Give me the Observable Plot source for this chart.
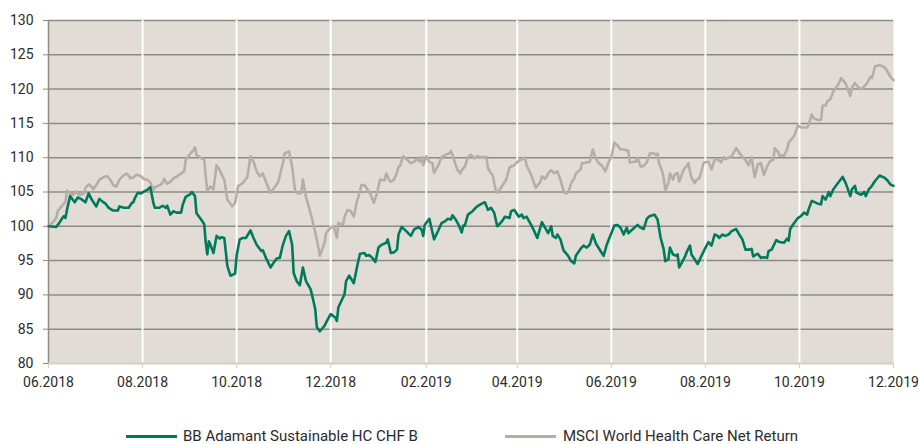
<!DOCTYPE html>
<html>
<head>
<meta charset="utf-8">
<script src="https://cdn.jsdelivr.net/npm/d3@7"></script>
<script src="https://cdn.jsdelivr.net/npm/@observablehq/plot@0.6"></script>
<style>
  html, body { margin: 0; padding: 0; background: #ffffff; }
  #wrap { width: 919px; height: 444px; position: relative; font-family: Roboto, "Open Sans", sans-serif; color: #2b2b2b; }
  #legend { position: relative; width: 919px; height: 39px; font-size: 15px; }
  #legend .sw { position: absolute; width: 51px; height: 3px; top: 30px; }
  #legend .lb { position: absolute; top: 24px; line-height: 14px; white-space: nowrap; }
</style>
</head>
<body>
<div id="wrap">
  <div id="chart"></div>
  <div id="legend"></div>
</div>
<script>
// ---- data ----
const seriesNames = ["BB Adamant Sustainable HC CHF B", "MSCI World Health Care Net Return"];
const seriesColors = ["#007a5c", "#b5aea7"];
const yTicks = [80, 85, 90, 95, 100, 105, 110, 115, 120, 125, 130];
const xTicks = ["2018-06-01","2018-08-01","2018-10-01","2018-12-01","2019-02-01","2019-04-01","2019-06-01","2019-08-01","2019-10-01","2019-12-01"];

const fund = [["2018-06-01",100],["2018-06-06",99.9],["2018-06-08",100.5],["2018-06-10",101.2],["2018-06-11",101.5],["2018-06-12",101.2],["2018-06-13",102.4],["2018-06-15",104.4],["2018-06-17",103.8],["2018-06-18",103.5],["2018-06-20",104.2],["2018-06-22",104.0],["2018-06-25",103.5],["2018-06-27",104.8],["2018-06-29",103.9],["2018-07-02",102.9],["2018-07-04",104.0],["2018-07-06",103.6],["2018-07-08",103.3],["2018-07-10",102.7],["2018-07-13",102.3],["2018-07-16",102.3],["2018-07-17",102.9],["2018-07-20",102.7],["2018-07-23",102.7],["2018-07-25",103.4],["2018-07-26",103.5],["2018-07-27",104.1],["2018-07-29",104.9],["2018-07-31",104.8],["2018-08-02",105.1],["2018-08-04",105.3],["2018-08-06",105.7],["2018-08-07",104.6],["2018-08-08",103.4],["2018-08-09",102.7],["2018-08-12",102.7],["2018-08-14",103.0],["2018-08-16",102.7],["2018-08-17",103.0],["2018-08-19",101.7],["2018-08-21",102.2],["2018-08-23",102.0],["2018-08-26",102.0],["2018-08-27",103.1],["2018-08-29",104.3],["2018-09-01",104.7],["2018-09-02",105.0],["2018-09-04",104.4],["2018-09-05",101.9],["2018-09-08",101.0],["2018-09-10",100.3],["2018-09-11",97.6],["2018-09-12",95.9],["2018-09-13",97.8],["2018-09-14",97.3],["2018-09-16",96.1],["2018-09-18",98.6],["2018-09-20",98.2],["2018-09-21",98.4],["2018-09-23",98.3],["2018-09-25",94.2],["2018-09-27",92.8],["2018-09-30",93.1],["2018-10-01",95.7],["2018-10-03",98.1],["2018-10-05",98.3],["2018-10-07",98.3],["2018-10-10",99.4],["2018-10-12",98.3],["2018-10-14",97.3],["2018-10-17",96.4],["2018-10-18",96.5],["2018-10-20",95.4],["2018-10-23",94.0],["2018-10-25",94.7],["2018-10-27",95.3],["2018-10-29",95.4],["2018-10-31",97.3],["2018-11-02",98.6],["2018-11-04",99.3],["2018-11-06",97.3],["2018-11-07",93.2],["2018-11-09",92.0],["2018-11-11",91.4],["2018-11-13",94.0],["2018-11-15",92.0],["2018-11-18",90.8],["2018-11-19",89.9],["2018-11-21",87.9],["2018-11-22",85.3],["2018-11-24",84.7],["2018-11-27",85.5],["2018-11-29",86.4],["2018-12-01",87.2],["2018-12-04",86.7],["2018-12-05",86.2],["2018-12-06",88.2],["2018-12-10",90.1],["2018-12-11",92.0],["2018-12-13",92.8],["2018-12-16",91.7],["2018-12-18",94.0],["2018-12-20",96.0],["2018-12-23",96.1],["2018-12-24",95.7],["2018-12-26",95.8],["2018-12-28",95.4],["2018-12-30",94.8],["2019-01-01",96.9],["2019-01-03",97.3],["2019-01-06",97.6],["2019-01-07",98.1],["2019-01-09",96.1],["2019-01-11",96.2],["2019-01-13",96.6],["2019-01-14",98.8],["2019-01-16",99.9],["2019-01-19",99.3],["2019-01-22",98.6],["2019-01-24",99.5],["2019-01-27",99.9],["2019-01-29",99.5],["2019-01-30",98.6],["2019-01-31",100.2],["2019-02-03",101.1],["2019-02-06",98.1],["2019-02-09",99.5],["2019-02-11",100.5],["2019-02-13",100.7],["2019-02-15",101.1],["2019-02-17",101.0],["2019-02-18",101.6],["2019-02-20",101.0],["2019-02-22",100.2],["2019-02-24",99.1],["2019-02-25",100.1],["2019-02-26",100.1],["2019-02-28",101.7],["2019-03-03",102.2],["2019-03-05",102.7],["2019-03-06",102.9],["2019-03-09",103.3],["2019-03-11",103.5],["2019-03-13",102.4],["2019-03-15",102.7],["2019-03-17",102.0],["2019-03-19",100.0],["2019-03-22",100.7],["2019-03-24",101.4],["2019-03-27",101.2],["2019-03-28",102.2],["2019-03-30",102.4],["2019-04-02",101.4],["2019-04-04",101.7],["2019-04-05",101.2],["2019-04-07",101.4],["2019-04-10",100.2],["2019-04-12",99.3],["2019-04-14",98.3],["2019-04-17",100.6],["2019-04-19",99.8],["2019-04-21",99.0],["2019-04-23",100.0],["2019-04-24",98.6],["2019-04-26",98.3],["2019-04-27",98.8],["2019-04-29",98.1],["2019-05-01",96.5],["2019-05-04",95.7],["2019-05-06",94.9],["2019-05-08",94.6],["2019-05-09",95.7],["2019-05-12",96.7],["2019-05-14",97.2],["2019-05-16",96.9],["2019-05-18",97.3],["2019-05-20",98.8],["2019-05-22",97.5],["2019-05-25",96.4],["2019-05-27",95.7],["2019-05-29",97.3],["2019-06-01",99.0],["2019-06-03",100.1],["2019-06-05",100.2],["2019-06-07",99.8],["2019-06-09",98.8],["2019-06-11",99.8],["2019-06-12",99.0],["2019-06-15",99.6],["2019-06-18",100.2],["2019-06-20",99.8],["2019-06-22",99.6],["2019-06-24",101.1],["2019-06-26",101.5],["2019-06-29",101.7],["2019-07-01",101.0],["2019-07-03",98.3],["2019-07-05",96.6],["2019-07-06",94.9],["2019-07-08",95.2],["2019-07-09",96.9],["2019-07-11",95.9],["2019-07-13",95.7],["2019-07-14",95.9],["2019-07-15",94.0],["2019-07-17",94.8],["2019-07-19",95.7],["2019-07-20",96.3],["2019-07-22",97.2],["2019-07-23",95.9],["2019-07-25",95.2],["2019-07-27",94.5],["2019-07-28",95.0],["2019-07-31",96.4],["2019-08-02",97.3],["2019-08-03",97.7],["2019-08-05",97.2],["2019-08-07",98.8],["2019-08-09",98.6],["2019-08-10",98.3],["2019-08-12",98.8],["2019-08-14",98.6],["2019-08-16",98.8],["2019-08-18",99.3],["2019-08-21",99.6],["2019-08-23",98.8],["2019-08-25",98.1],["2019-08-27",96.6],["2019-08-29",96.6],["2019-08-31",96.7],["2019-09-01",95.6],["2019-09-04",96.0],["2019-09-06",95.4],["2019-09-08",95.5],["2019-09-10",95.4],["2019-09-11",96.4],["2019-09-13",96.6],["2019-09-16",98.0],["2019-09-18",97.7],["2019-09-21",97.6],["2019-09-23",98.2],["2019-09-24",97.9],["2019-09-25",99.6],["2019-09-27",100.3],["2019-09-30",101.2],["2019-10-02",101.5],["2019-10-04",102.0],["2019-10-06",101.7],["2019-10-07",102.5],["2019-10-09",103.7],["2019-10-13",103.3],["2019-10-15",103.2],["2019-10-16",104.4],["2019-10-18",103.9],["2019-10-19",104.4],["2019-10-20",105.0],["2019-10-21",104.4],["2019-10-23",105.4],["2019-10-26",106.3],["2019-10-29",107.2],["2019-10-31",106.3],["2019-11-03",104.4],["2019-11-04",105.4],["2019-11-06",105.9],["2019-11-07",104.9],["2019-11-10",104.6],["2019-11-12",105.0],["2019-11-13",104.4],["2019-11-15",105.4],["2019-11-17",105.9],["2019-11-19",106.6],["2019-11-22",107.4],["2019-11-25",107.1],["2019-11-27",106.7],["2019-11-29",106.1],["2019-12-01",105.9]];

const msci = [["2018-06-01",100],["2018-06-03",100.4],["2018-06-06",101.2],["2018-06-07",102.2],["2018-06-09",102.8],["2018-06-11",103.3],["2018-06-12",103.6],["2018-06-13",105.2],["2018-06-15",104.8],["2018-06-17",104.6],["2018-06-19",105.1],["2018-06-20",104.7],["2018-06-22",104.6],["2018-06-24",104.8],["2018-06-25",105.6],["2018-06-27",106.1],["2018-06-29",105.8],["2018-06-30",105.4],["2018-07-02",106.0],["2018-07-04",106.8],["2018-07-07",107.2],["2018-07-09",107.3],["2018-07-11",106.8],["2018-07-13",106.0],["2018-07-15",105.8],["2018-07-17",106.8],["2018-07-20",107.5],["2018-07-22",107.7],["2018-07-24",107.0],["2018-07-26",107.1],["2018-07-28",107.5],["2018-07-31",107.3],["2018-08-02",106.9],["2018-08-04",106.8],["2018-08-06",106.4],["2018-08-08",105.3],["2018-08-09",105.7],["2018-08-12",106.0],["2018-08-14",106.3],["2018-08-15",106.9],["2018-08-17",106.2],["2018-08-19",106.5],["2018-08-21",107.0],["2018-08-23",107.2],["2018-08-26",107.7],["2018-08-28",108.0],["2018-08-29",109.7],["2018-09-01",110.6],["2018-09-03",111.1],["2018-09-04",111.5],["2018-09-05",110.4],["2018-09-07",110.1],["2018-09-10",109.7],["2018-09-11",107.2],["2018-09-12",105.2],["2018-09-14",105.8],["2018-09-16",105.4],["2018-09-18",108.9],["2018-09-20",108.2],["2018-09-22",107.2],["2018-09-23",106.8],["2018-09-25",103.9],["2018-09-26",103.6],["2018-09-28",102.9],["2018-09-30",103.4],["2018-10-01",104.6],["2018-10-02",105.9],["2018-10-05",106.3],["2018-10-08",107.2],["2018-10-10",110.2],["2018-10-12",109.4],["2018-10-14",108.0],["2018-10-16",107.3],["2018-10-18",107.7],["2018-10-20",106.5],["2018-10-23",104.9],["2018-10-26",105.8],["2018-10-28",106.5],["2018-10-31",109.2],["2018-11-01",110.6],["2018-11-04",110.9],["2018-11-06",108.7],["2018-11-08",105.1],["2018-11-10",104.8],["2018-11-12",104.9],["2018-11-13",106.8],["2018-11-15",104.3],["2018-11-17",102.7],["2018-11-19",101.0],["2018-11-22",98.1],["2018-11-24",95.7],["2018-11-27",97.6],["2018-11-28",99.0],["2018-12-01",99.8],["2018-12-03",100.0],["2018-12-05",98.3],["2018-12-06",100.5],["2018-12-09",100.2],["2018-12-10",101.4],["2018-12-12",102.4],["2018-12-14",102.2],["2018-12-16",101.4],["2018-12-18",103.6],["2018-12-19",104.3],["2018-12-21",106.0],["2018-12-23",106.0],["2018-12-25",105.3],["2018-12-27",104.6],["2018-12-29",103.4],["2018-12-31",104.8],["2019-01-02",106.8],["2019-01-05",106.7],["2019-01-06",107.7],["2019-01-08",106.7],["2019-01-09",106.5],["2019-01-11",106.8],["2019-01-13",107.8],["2019-01-14",108.7],["2019-01-15",108.8],["2019-01-17",110.2],["2019-01-19",109.8],["2019-01-22",109.2],["2019-01-24",109.4],["2019-01-26",109.8],["2019-01-28",109.4],["2019-01-29",110.1],["2019-01-30",108.9],["2019-02-01",110.2],["2019-02-03",109.4],["2019-02-05",109.2],["2019-02-06",107.8],["2019-02-09",109.0],["2019-02-11",110.1],["2019-02-14",110.5],["2019-02-16",110.6],["2019-02-17",111.0],["2019-02-18",110.4],["2019-02-21",108.3],["2019-02-23",107.7],["2019-02-24",108.2],["2019-02-26",108.7],["2019-02-28",110.1],["2019-03-02",110.4],["2019-03-04",109.9],["2019-03-06",110.2],["2019-03-08",110.1],["2019-03-12",110.1],["2019-03-13",108.5],["2019-03-15",107.7],["2019-03-16",107.5],["2019-03-18",105.3],["2019-03-19",104.9],["2019-03-22",105.8],["2019-03-25",106.9],["2019-03-27",108.6],["2019-03-30",108.9],["2019-04-01",109.4],["2019-04-04",109.8],["2019-04-06",110.0],["2019-04-07",108.9],["2019-04-10",107.5],["2019-04-13",105.6],["2019-04-16",106.5],["2019-04-17",107.3],["2019-04-19",106.9],["2019-04-22",108.0],["2019-04-23",108.2],["2019-04-25",107.7],["2019-04-27",108.0],["2019-04-29",106.8],["2019-05-01",105.2],["2019-05-02",104.8],["2019-05-04",104.9],["2019-05-06",106.3],["2019-05-08",107.0],["2019-05-09",107.7],["2019-05-12",108.3],["2019-05-13",109.2],["2019-05-16",109.3],["2019-05-18",109.4],["2019-05-20",111.2],["2019-05-22",109.8],["2019-05-24",109.2],["2019-05-26",108.8],["2019-05-28",108.0],["2019-05-30",109.2],["2019-06-01",110.1],["2019-06-02",111.1],["2019-06-03",112.2],["2019-06-05",111.8],["2019-06-07",111.2],["2019-06-09",111.2],["2019-06-12",111.0],["2019-06-13",109.3],["2019-06-16",109.4],["2019-06-17",109.4],["2019-06-18",110.0],["2019-06-20",108.7],["2019-06-22",108.8],["2019-06-24",109.3],["2019-06-26",110.6],["2019-06-28",110.7],["2019-06-30",110.4],["2019-07-01",110.6],["2019-07-02",109.2],["2019-07-04",108.0],["2019-07-05",107.0],["2019-07-06",105.2],["2019-07-08",106.3],["2019-07-09",107.7],["2019-07-11",106.8],["2019-07-12",107.5],["2019-07-14",107.8],["2019-07-15",106.5],["2019-07-17",107.7],["2019-07-18",108.3],["2019-07-20",108.8],["2019-07-21",109.2],["2019-07-22",108.0],["2019-07-23",107.1],["2019-07-25",106.3],["2019-07-26",106.7],["2019-07-28",107.0],["2019-07-29",107.7],["2019-07-31",109.3],["2019-08-03",109.4],["2019-08-04",108.9],["2019-08-05",108.3],["2019-08-07",109.7],["2019-08-09",109.8],["2019-08-11",109.3],["2019-08-13",110.1],["2019-08-14",109.8],["2019-08-16",110.0],["2019-08-18",110.2],["2019-08-21",111.4],["2019-08-23",110.7],["2019-08-25",110.1],["2019-08-27",109.7],["2019-08-29",108.9],["2019-08-31",110.1],["2019-09-01",108.5],["2019-09-02",107.2],["2019-09-04",109.0],["2019-09-06",109.2],["2019-09-08",107.5],["2019-09-10",108.7],["2019-09-12",109.5],["2019-09-14",109.7],["2019-09-15",111.4],["2019-09-17",110.9],["2019-09-18",110.3],["2019-09-21",110.3],["2019-09-23",111.2],["2019-09-24",112.2],["2019-09-26",112.7],["2019-09-28",113.4],["2019-09-30",114.7],["2019-10-02",114.4],["2019-10-06",114.4],["2019-10-07",114.8],["2019-10-09",116.3],["2019-10-10",115.8],["2019-10-13",115.5],["2019-10-15",115.5],["2019-10-16",117.6],["2019-10-18",117.6],["2019-10-19",118.2],["2019-10-21",118.5],["2019-10-23",119.7],["2019-10-26",120.6],["2019-10-28",121.6],["2019-10-31",120.8],["2019-11-03",119.0],["2019-11-04",120.2],["2019-11-06",120.9],["2019-11-08",120.3],["2019-11-10",120.0],["2019-11-12",120.4],["2019-11-14",120.9],["2019-11-16",121.8],["2019-11-17",121.6],["2019-11-19",123.3],["2019-11-22",123.5],["2019-11-25",123.2],["2019-11-27",122.6],["2019-11-29",121.8],["2019-12-01",121.3]];

// ---- build ----
const toRows = (arr) => arr.map(([d, v]) => ({date: new Date(d + "T00:00:00Z"), value: v}));
const fundRows = toRows(fund);
const msciRows = toRows(msci);
const xTickDates = xTicks.map(d => new Date(d + "T00:00:00Z"));

const gridColor = "#8e8a85";
const baseColor = "#d2cec8";

const chart = Plot.plot({
  width: 919,
  height: 405,
  marginLeft: 48,
  marginRight: 26,
  marginTop: 20,
  marginBottom: 42,
  style: {fontFamily: "Roboto, 'Open Sans', sans-serif", fontSize: "14px", color: "#2b2b2b", background: "#ffffff"},
  x: {type: "utc", domain: [xTickDates[0], xTickDates[xTickDates.length - 1]]},
  y: {domain: [yTicks[0], yTicks[yTicks.length - 1]]},
  marks: [
    Plot.frame({fill: "#e1ddd6", stroke: null}),
    Plot.ruleY(yTicks.slice(1), {stroke: gridColor, strokeWidth: 1.5}),
    Plot.ruleX(xTickDates.slice(1, -1), {stroke: "#ffffff", strokeWidth: 2}),
    Plot.ruleX([xTickDates[0]], {stroke: gridColor, strokeWidth: 1.5}),
    Plot.ruleY([yTicks[0]], {stroke: baseColor, strokeWidth: 2}),
    Plot.lineY(msciRows, {x: "date", y: "value", stroke: seriesColors[1], strokeWidth: 2.6}),
    Plot.lineY(fundRows, {x: "date", y: "value", stroke: seriesColors[0], strokeWidth: 2.6}),
    Plot.axisY({ticks: yTicks, tickSize: 5, tickPadding: 10, label: null, stroke: gridColor, fill: "#2b2b2b"}),
    Plot.axisX({ticks: xTickDates, tickFormat: "%m.%Y", tickSize: 5, tickPadding: 9, label: null, stroke: baseColor, fill: "#2b2b2b"})
  ]
});
document.getElementById("chart").appendChild(chart);

// ---- legend (below the svg) ----
const legend = document.getElementById("legend");
const legendPos = [{sw: 126, lb: 183}, {sw: 505, lb: 563}];
seriesNames.forEach((name, i) => {
  const sw = document.createElement("span");
  sw.className = "sw";
  sw.style.left = legendPos[i].sw + "px";
  sw.style.background = seriesColors[i];
  legend.appendChild(sw);
  const lb = document.createElement("span");
  lb.className = "lb";
  lb.style.left = legendPos[i].lb + "px";
  lb.textContent = name;
  legend.appendChild(lb);
});
</script>
</body>
</html>
